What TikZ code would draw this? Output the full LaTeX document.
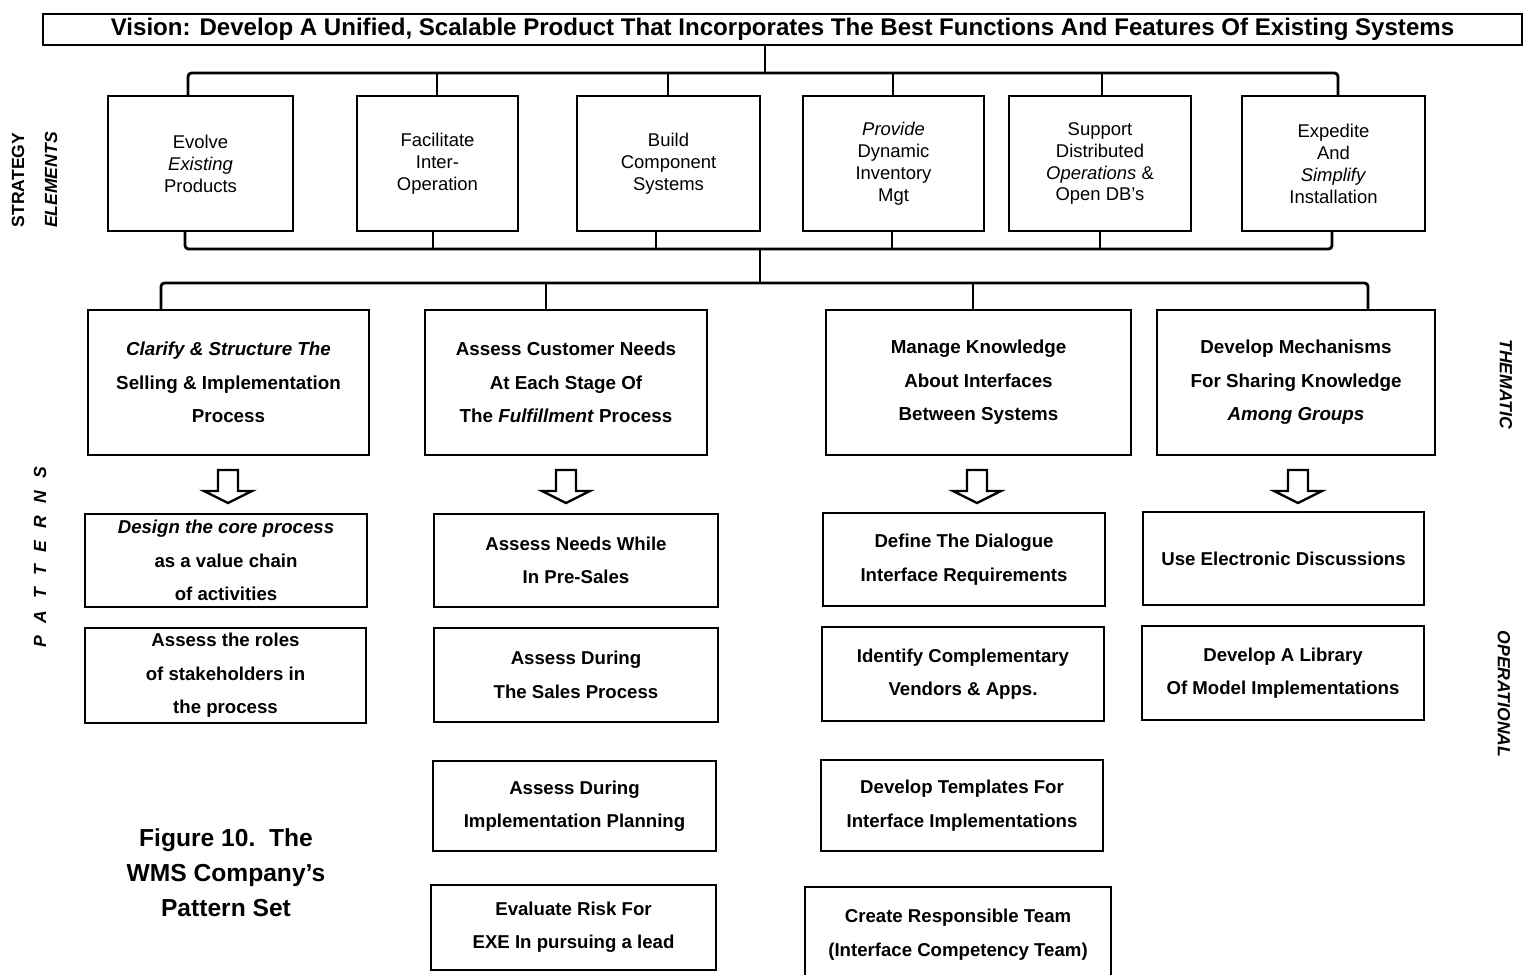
\documentclass[tikz,border=0pt]{standalone}
\usepackage{fontspec}
\setmainfont{Liberation Sans}

\begin{document}
\begin{tikzpicture}[x=0.02cm,y=-0.02cm,
    every node/.style={inner sep=0pt, align=center},
    box/.style={draw, line width=1.4pt},
    stratbox/.style={box, minimum height=2.7cm, font=\fontsize{10.5}{12.5}\selectfont},
    themebox/.style={box, minimum height=2.9cm, font=\bfseries\fontsize{10.7}{19}\selectfont},
    opbox/.style={box, font=\bfseries\fontsize{10.6}{19}\selectfont},
    link/.style={line width=1.6pt, rounded corners=2pt},
    hollow/.style={line width=1.3pt},
    sidelabel/.style={font=\bfseries\fontsize{10}{12}\selectfont}]
    \useasboundingbox (0,0) rectangle (1530,974);

    %vision
    \node[box, minimum width=29.58cm, minimum height=0.62cm, font=\bfseries\fontsize{13.7}{15}\selectfont] (vision) at (782.5,29.5) {Vision: Develop A Unified, Scalable Product That Incorporates The Best Functions And Features Of Existing Systems};

    %strategy elements
    \node[stratbox, minimum width=3.7cm] (s1) at (200.5,163.5) {Evolve\\\textit{Existing}\\Products};
    \node[stratbox, minimum width=3.22cm] (s2) at (437.5,163.5) {Facilitate\\Inter-\\Operation};
    \node[stratbox, minimum width=3.66cm] (s3) at (668.5,163.5) {Build\\Component\\Systems};
    \node[stratbox, minimum width=3.62cm] (s4) at (893.5,163.5) {\textit{Provide}\\Dynamic\\Inventory\\Mgt};
    \node[stratbox, minimum width=3.64cm] (s5) at (1100,163.5) {Support\\Distributed\\\textit{Operations} \&\\Open DB's};
    \node[stratbox, minimum width=3.66cm] (s6) at (1333.5,163.5) {Expedite\\And\\\textit{Simplify}\\Installation};

    %thematic
    \node[themebox, minimum width=5.62cm] (tA) at (228.5,382.5) {\textit{Clarify \& Structure The}\\Selling \& Implementation\\Process};
    \node[themebox, minimum width=5.64cm] (tB) at (566,382.5) {Assess Customer Needs\\At Each Stage Of\\The \textit{Fulfillment} Process};
    \node[themebox, minimum width=6.1cm] (tC) at (978.5,382.5) {Manage Knowledge\\About Interfaces\\Between Systems};
    \node[themebox, minimum width=5.56cm] (tD) at (1296,382.5) {Develop Mechanisms\\For Sharing Knowledge\\\textit{Among Groups}};

    %operational
    \node[opbox, minimum width=5.64cm, minimum height=1.86cm] (oA1) at (226,560.5) {\textit{Design the core process}\\as a value chain\\of activities};
    \node[opbox, minimum width=5.62cm, minimum height=1.9cm] (oA2) at (225.5,675.5) {Assess the roles\\of stakeholders in\\the process};
    \node[opbox, minimum width=5.68cm, minimum height=1.86cm] (oB1) at (576,560.5) {Assess Needs While\\In Pre-Sales};
    \node[opbox, minimum width=5.68cm, minimum height=1.88cm] (oB2) at (576,675) {Assess During\\The Sales Process};
    \node[opbox, minimum width=5.66cm, minimum height=1.8cm] (oB3) at (574.5,806) {Assess During\\Implementation Planning};
    \node[opbox, minimum width=5.7cm, minimum height=1.7cm] (oB4) at (573.5,927.5) {Evaluate Risk For\\EXE In pursuing a lead};
    \node[opbox, minimum width=5.64cm, minimum height=1.86cm] (oC1) at (964,559.5) {Define The Dialogue\\Interface Requirements};
    \node[opbox, minimum width=5.64cm, minimum height=1.88cm] (oC2) at (963,674) {Identify Complementary\\Vendors \& Apps.};
    \node[opbox, minimum width=5.64cm, minimum height=1.82cm] (oC3) at (962,805.5) {Develop Templates For\\Interface Implementations};
    \node[opbox, minimum width=6.12cm, minimum height=1.9cm] (oC4) at (958,934.5) {Create Responsible Team\\(Interface Competency Team)};
    \node[opbox, minimum width=5.62cm, minimum height=1.86cm] (oD1) at (1283.5,558.5) {Use Electronic Discussions};
    \node[opbox, minimum width=5.64cm, minimum height=1.88cm] (oD2) at (1283,673) {Develop A Library\\Of Model Implementations};

    %hollow arrows
    \foreach \ax in {228,566,977,1298}
        \draw[hollow] (\ax-10,470) -- (\ax+10,470) -- (\ax+10,491) -- (\ax+24,491) -- (\ax,503) -- (\ax-24,491) -- (\ax-10,491) -- cycle;

    %vision to strategy elements
    \coordinate (vstem) at (765,73);
    \coordinate (u1) at (188,73);
    \coordinate (u2) at (437,73);
    \coordinate (u3) at (668,73);
    \coordinate (u4) at (893,73);
    \coordinate (u5) at (1102,73);
    \coordinate (u6) at (1338,73);
    \draw[link] (vision.south -| vstem) -- (vstem);
    \draw[link] (s1.north -| u1) -- (u1) -- (u6) -- (s6.north -| u6);
    \foreach \i in {2,...,5}
        \draw[link] (u\i) -- (s\i.north -| u\i);

    %strategy elements to thematic
    \coordinate (l1) at (185,249);
    \coordinate (l2) at (433,249);
    \coordinate (l3) at (656,249);
    \coordinate (l4) at (892,249);
    \coordinate (l5) at (1100,249);
    \coordinate (l6) at (1332,249);
    \coordinate (lstem) at (760,249);
    \coordinate (m) at (760,283);
    \coordinate (n1) at (161,283);
    \coordinate (n2) at (546,283);
    \coordinate (n3) at (973,283);
    \coordinate (n4) at (1368,283);
    \draw[link] (s1.south -| l1) -- (l1) -- (l6) -- (s6.south -| l6);
    \foreach \i in {2,...,5}
        \draw[link] (s\i.south -| l\i) -- (l\i);
    \draw[link] (lstem) -- (m);
    \draw[link] (tA.north -| n1) -- (n1) -- (n4) -- (tD.north -| n4);
    \draw[link] (n2) -- (tB.north -| n2);
    \draw[link] (n3) -- (tC.north -| n3);

    %side labels
    \node[sidelabel, rotate=90] (strategy) at (18,180) {STRATEGY};
    \node[sidelabel, rotate=90] (elements) at (51,180) {\itshape ELEMENTS};
    \node[sidelabel, rotate=90] (patterns) at (40,557) {\itshape P\hspace{7pt}A\hspace{7pt}T\hspace{7pt}T\hspace{7pt}E\hspace{7pt}R\hspace{7pt}N\hspace{7pt}S};
    \node[sidelabel, rotate=-90] (thematic) at (1506,384) {\itshape THEMATIC};
    \node[sidelabel, rotate=-90] (operational) at (1504,694) {\itshape OPERATIONAL};

    %caption
    \node[font=\bfseries\fontsize{14}{20}\selectfont] (caption) at (226,873) {Figure 10.\ \ The\\WMS Company's\\Pattern Set};
\end{tikzpicture}
\end{document}
